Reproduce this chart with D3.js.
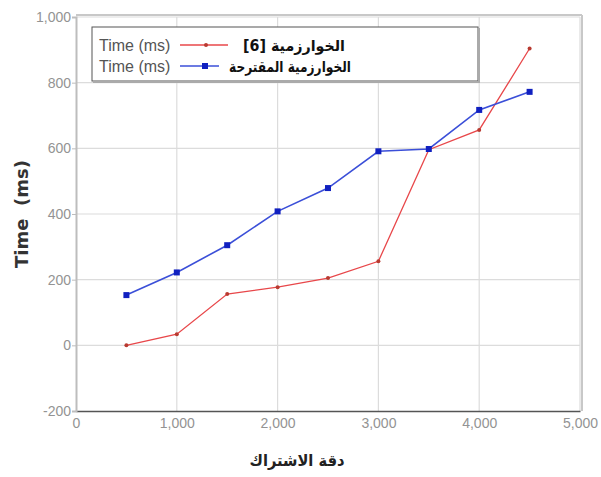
<!DOCTYPE html>
<html>
<head>
<meta charset="utf-8">
<script src="https://cdn.jsdelivr.net/npm/d3@7"></script>
<style>
  html, body { margin: 0; padding: 0; background: #fff; }
  svg { display: block; }
</style>
</head>
<body>
<svg id="chart" width="601" height="477"></svg>
<script>
// Subscription accuracy on the x axis, run time (ms) on the y axis
const xValues = [500, 1000, 1500, 2000, 2500, 3000, 3500, 4000, 4500];
const refTimes = [0, 34, 156, 177, 205, 256, 596, 656, 904];        // الخوارزمية [6]
const proposedTimes = [153, 222, 305, 408, 479, 591, 598, 717, 772]; // الخوارزمية المقترحة
const xTicks = [0, 1000, 2000, 3000, 4000, 5000];
const yTicks = [-200, 0, 200, 400, 600, 800, 1000];
const seriesNames = ["الخوارزمية [6]", "الخوارزمية المقترحة"];
const legendPrefix = "Time (ms)";
const yTitle = "Time  (ms)";
const xTitle = "دقة الاشتراك";

const svg = d3.select("#chart");
const plot = { left: 76, right: 580, top: 17, bottom: 411 };

const x = d3.scaleLinear().domain([0, 5000]).range([plot.left, plot.right]);
const y = d3.scaleLinear().domain([-200, 1000]).range([plot.bottom, plot.top]);
// thousands separator with a plain hyphen for negatives
const fmt = d3.formatLocale({ decimal: ".", thousands: ",", grouping: [3], currency: ["", ""], minus: "-" }).format(",");
const tickFont = "14px 'Liberation Sans', Arial, sans-serif";

// grid
svg.append("g").selectAll("line").data(xTicks.slice(1)).join("line")
  .attr("x1", d => x(d)).attr("x2", d => x(d))
  .attr("y1", plot.top).attr("y2", plot.bottom)
  .attr("stroke", "#dcdcdc").attr("stroke-width", 1.2);
svg.append("g").selectAll("line").data(yTicks.slice(1)).join("line")
  .attr("x1", plot.left).attr("x2", plot.right)
  .attr("y1", d => y(d)).attr("y2", d => y(d))
  .attr("stroke", "#dcdcdc").attr("stroke-width", 1.2);

// frame
svg.append("line").attr("x1", plot.left).attr("x2", plot.right + 2)
  .attr("y1", plot.top - 2).attr("y2", plot.top - 2)
  .attr("stroke", "#c8c8c8").attr("stroke-width", 2);
svg.append("line").attr("x1", plot.right + 2).attr("x2", plot.right + 2)
  .attr("y1", plot.top - 2).attr("y2", plot.bottom)
  .attr("stroke", "#c8c8c8").attr("stroke-width", 2);

// axes
const xAxis = d3.axisBottom(x).tickValues(xTicks).tickFormat(fmt).tickSize(0).tickPadding(7);
const yAxis = d3.axisLeft(y).tickValues(yTicks).tickFormat(fmt).tickSize(4).tickPadding(1);

const gx = svg.append("g").attr("transform", `translate(0,${plot.bottom})`).call(xAxis);
gx.select(".domain").attr("stroke", "#555").attr("stroke-width", 1.5);
gx.selectAll("text").attr("fill", "#939393").style("font", tickFont);

const gy = svg.append("g").attr("transform", `translate(${plot.left},0)`).call(yAxis);
gy.select(".domain").attr("stroke", "#bdbdbd").attr("stroke-width", 2);
gy.selectAll(".tick line").attr("stroke", "#bdbdbd");
gy.selectAll("text").attr("fill", "#939393").style("font", tickFont);

// axis titles
svg.append("text")
  .attr("transform", `translate(28,${(plot.top + plot.bottom) / 2}) rotate(-90)`)
  .attr("text-anchor", "middle")
  .style("font", "bold 18px 'DejaVu Sans'").attr("fill", "#333")
  .style("white-space", "pre")
  .text(yTitle);
svg.append("text")
  .attr("x", 297).attr("y", 466)
  .attr("text-anchor", "middle")
  .style("font", "bold 16px 'DejaVu Sans'").attr("fill", "#222")
  .attr("textLength", 95).attr("lengthAdjust", "spacingAndGlyphs")
  .text(xTitle);

// series
const line = d3.line().x(d => x(d[0])).y(d => y(d[1]));
const refData = xValues.map((v, i) => [v, refTimes[i]]);
const propData = xValues.map((v, i) => [v, proposedTimes[i]]);

svg.append("path").datum(refData).attr("d", line)
  .attr("fill", "none").attr("stroke", "#e8474a").attr("stroke-width", 1.3);
svg.append("g").selectAll("circle").data(refData).join("circle")
  .attr("cx", d => x(d[0])).attr("cy", d => y(d[1])).attr("r", 2)
  .attr("fill", "#b83a30");

svg.append("path").datum(propData).attr("d", line)
  .attr("fill", "none").attr("stroke", "#3b4fd8").attr("stroke-width", 1.6);
svg.append("g").selectAll("rect").data(propData).join("rect")
  .attr("x", d => x(d[0]) - 3).attr("y", d => y(d[1]) - 3)
  .attr("width", 6).attr("height", 6)
  .attr("fill", "#1020c0");

// legend
const lg = svg.append("g");
lg.append("rect").attr("x", 92).attr("y", 27).attr("width", 386).attr("height", 54)
  .attr("fill", "#fff").attr("stroke", "#555").attr("stroke-width", 1);
lg.append("line").attr("x1", 479).attr("x2", 479).attr("y1", 28).attr("y2", 82)
  .attr("stroke", "#aaa").attr("stroke-width", 2);
lg.append("line").attr("x1", 93).attr("x2", 480).attr("y1", 82).attr("y2", 82)
  .attr("stroke", "#aaa").attr("stroke-width", 2);

const rows = [
  { name: seriesNames[0], color: "#e8474a", mark: "#b83a30", sq: false, yy: 45, lineEnd: 228, tx: 345, tw: 102 },
  { name: seriesNames[1], color: "#3b4fd8", mark: "#1020c0", sq: true, yy: 66, lineEnd: 219, tx: 351, tw: 122 }
];
rows.forEach(r => {
  lg.append("text").attr("x", 99).attr("y", r.yy + 6)
    .style("font", "16px 'Liberation Sans', Arial, sans-serif").attr("fill", "#555").text(legendPrefix);
  lg.append("line").attr("x1", 180).attr("x2", r.lineEnd).attr("y1", r.yy).attr("y2", r.yy)
    .attr("stroke", r.color).attr("stroke-width", 1.5);
  if (r.sq) {
    lg.append("rect").attr("x", 202).attr("y", r.yy - 3).attr("width", 6).attr("height", 6).attr("fill", r.mark);
  } else {
    lg.append("circle").attr("cx", 206).attr("cy", r.yy).attr("r", 2).attr("fill", r.mark);
  }
  lg.append("text").attr("x", r.tx).attr("y", r.yy + 6)
    .attr("direction", "rtl").attr("text-anchor", "start")
    .attr("textLength", r.tw).attr("lengthAdjust", "spacingAndGlyphs")
    .style("font", "bold 15px 'DejaVu Sans'").attr("fill", "#111").text(r.name);
});
</script>
</body>
</html>
